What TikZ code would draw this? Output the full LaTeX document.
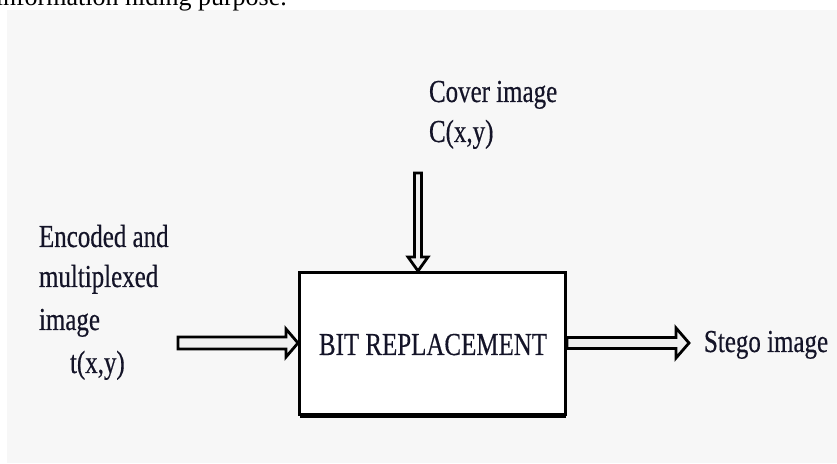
\documentclass[tikz,border=0pt]{standalone}
\usepackage{fontspec}
\setmainfont{Liberation Serif}[FakeStretch=0.78,FakeBold=0.4]
\newfontfamily\plainserif{Liberation Serif}
\usetikzlibrary{calc,shadows}
\definecolor{txt}{HTML}{141428}
\definecolor{bgg}{HTML}{F7F7F7}
\begin{document}
\begin{tikzpicture}[x=1pt,y=1pt,
  lbl/.style={inner sep=0pt,outer sep=0pt,text=txt,font=\fontsize{32}{40}\selectfont},
  blockarrow/.style={draw=black,line width=2.8pt,fill=gray!12,line join=miter},
  mainbox/.style={draw=black,line width=3pt,fill=white,minimum width=266pt,minimum height=142pt,inner sep=0pt,
    drop shadow={opacity=1,shadow xshift=0pt,shadow yshift=-3pt,fill=black}}]
\useasboundingbox (0,0) rectangle (837,463);
\begin{scope}
\clip (0,0) rectangle (837,463);
\fill[white] (0,0) rectangle (837,463);
\fill[bgg] (7,0) rectangle (837,453);
\node[anchor=base east,inner sep=0pt,font=\plainserif\fontsize{26}{30}\selectfont] (toptext) at (287,457) {information hiding purpose.};
\end{scope}

\node[mainbox] (box) at (432.5,119.5) {};
\node[lbl,anchor=base] (bit) at (433,108) {BIT REPLACEMENT};

\node[lbl,anchor=base west] (cov1) at (429,361) {Cover image};
\node[lbl,anchor=base west] (cov2) at (429,321) {C(x,y)};
\node[lbl,anchor=base west] (enc1) at (39,216) {Encoded and};
\node[lbl,anchor=base west] (enc2) at (39,176) {multiplexed};
\node[lbl,anchor=base west] (enc3) at (39,133) {image};
\node[lbl,anchor=base west] (enc4) at (70,90) {t(x,y)};
\node[lbl,anchor=base west] (stego) at (704,111) {Stego image};

\coordinate (ltail) at (178,120);
\coordinate (ltip) at (box.west |- ltail);
\coordinate (rtail) at (box.east |- ltail);
\coordinate (rtip) at (689,120);
\coordinate (vtail) at (418,290);
\coordinate (vtip) at (vtail |- box.north);

% left arrow
\draw[blockarrow] ($(ltail)+(0,6)$) -- ($(ltip)+(-12,6)$) -- ($(ltip)+(-12,14)$) -- (ltip)
  -- ($(ltip)+(-12,-14)$) -- ($(ltip)+(-12,-6)$) -- ($(ltail)+(0,-6)$) -- cycle;
% right arrow
\draw[blockarrow] ($(rtail)+(0,5.5)$) -- ($(rtip)+(-13,5.5)$) -- ($(rtip)+(-13,15)$) -- (rtip)
  -- ($(rtip)+(-13,-15)$) -- ($(rtip)+(-13,-5.5)$) -- ($(rtail)+(0,-5.5)$) -- cycle;
% vertical arrow
\draw[blockarrow] ($(vtail)+(-3.5,0)$) -- ($(vtip)+(-3.5,14)$) -- ($(vtip)+(-10,14)$) -- (vtip)
  -- ($(vtip)+(10,14)$) -- ($(vtip)+(3.5,14)$) -- ($(vtail)+(3.5,0)$) -- cycle;
\end{tikzpicture}
\end{document}
